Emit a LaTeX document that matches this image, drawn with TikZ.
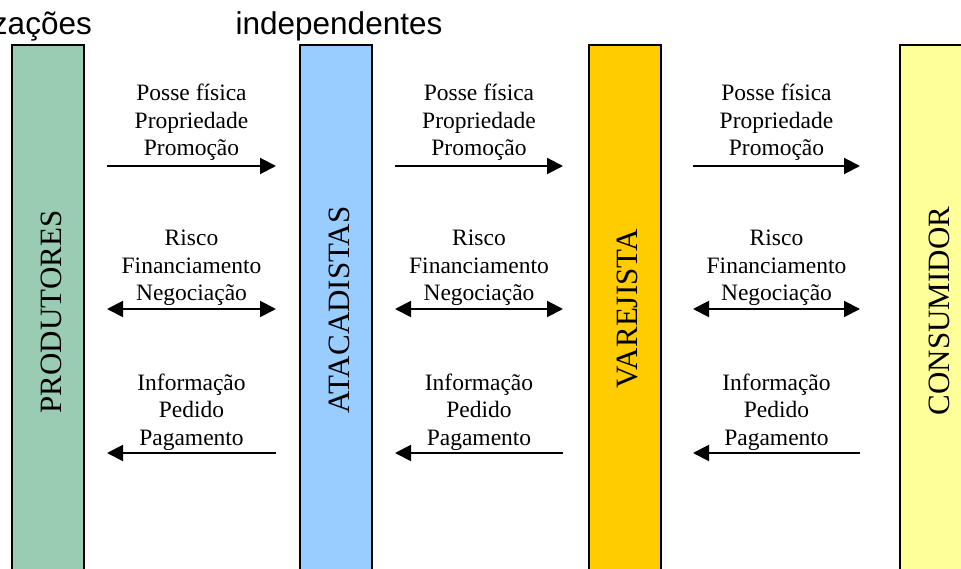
\documentclass[tikz,border=0pt]{standalone}
\usepackage{fontspec}
\setmainfont{Liberation Serif}
\newfontfamily\arialfont{Liberation Sans}
\usetikzlibrary{arrows.meta}
\definecolor{barGreen}{RGB}{153,204,178}
\definecolor{barBlue}{RGB}{153,204,255}
\definecolor{barGold}{RGB}{255,204,0}
\definecolor{barYellow}{RGB}{255,255,153}
\tikzset{
  bar/.style={draw=black, line width=2pt},
  barlabel/.style={rotate=90, inner sep=0pt, font=\fontsize{31}{37}\selectfont},
  flowline/.style={inner sep=0pt, anchor=base, font=\fontsize{23.5}{28}\selectfont},
  toplabel/.style={inner sep=0pt, font=\arialfont\fontsize{31.5}{36}\selectfont},
  flow/.style={line width=2pt, -{Triangle[length=16pt,width=16pt]}},
  flowboth/.style={line width=2pt, {Triangle[length=16pt,width=16pt]}-{Triangle[length=16pt,width=16pt]}},
}
\begin{document}
\begin{tikzpicture}[x=1pt,y=1pt]
\useasboundingbox (0,0) rectangle (961,-569);
\clip (0,0) rectangle (961,-569);
% top labels
\node[toplabel, anchor=base east] (tl1) at (92,-35) {zações};
\node[toplabel, anchor=base] (tl2) at (339,-35) {independentes};
% bars
\path[bar, fill=barGreen]  (12,-45)  rectangle (84,-600);
\path[bar, fill=barBlue]   (300,-45) rectangle (372,-600);
\path[bar, fill=barGold]   (589,-45) rectangle (661,-600);
\path[bar, fill=barYellow] (900,-45) rectangle (972,-600);
\node[barlabel] (b1) at (51,-312) {PRODUTORES};
\node[barlabel] (b2) at (339,-310) {ATACADISTAS};
\node[barlabel] (b3) at (627.5,-309) {VAREJISTA};
\node[barlabel] (b4) at (939,-311) {CONSUMIDOR};
% flows
\foreach \c/\xa/\xb in {1/107/276, 2/395/563, 3/693/860}{
  \coordinate (a\c-1-s) at (\xa,-166);
  \coordinate (a\c-1-e) at (\xb,-166);
  \coordinate (a\c-2-s) at (\xa,-309);
  \coordinate (a\c-2-e) at (\xb,-309);
  \coordinate (a\c-3-s) at (\xa,-453);
  \coordinate (a\c-3-e) at (\xb,-453);
  \pgfmathsetmacro{\xm}{(\xa+\xb)/2}
  \node[flowline] (t\c-1-1) at (\xm,-101) {Posse física};
  \node[flowline] (t\c-1-2) at (\xm,-128.5) {Propriedade};
  \node[flowline] (t\c-1-3) at (\xm,-156) {Promoção};
  \node[flowline] (t\c-2-1) at (\xm,-246) {Risco};
  \node[flowline] (t\c-2-2) at (\xm,-273.5) {Financiamento};
  \node[flowline] (t\c-2-3) at (\xm,-301) {Negociação};
  \node[flowline] (t\c-3-1) at (\xm,-390) {Informação};
  \node[flowline] (t\c-3-2) at (\xm,-417.5) {Pedido};
  \node[flowline] (t\c-3-3) at (\xm,-445) {Pagamento};
  \draw[flow] (a\c-1-s) -- (a\c-1-e);
  \draw[flowboth] (a\c-2-s) -- (a\c-2-e);
  \draw[flow] (a\c-3-e) -- (a\c-3-s);
}
\end{tikzpicture}
\end{document}
